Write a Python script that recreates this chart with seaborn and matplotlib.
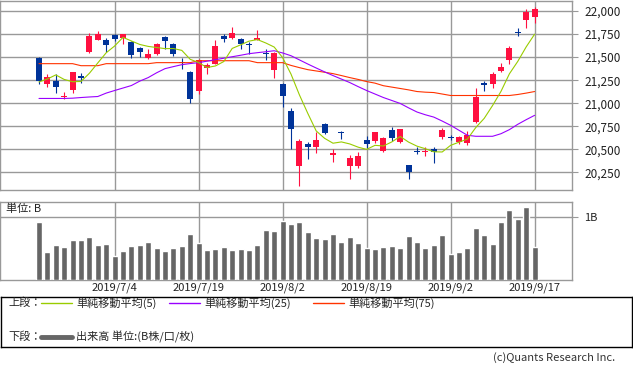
import numpy as np
import matplotlib
matplotlib.use('Agg')
import matplotlib.pyplot as plt
import seaborn as sns

# daily candles, 2019/6/21 .. 2019/9/17 (60 trading days)
open_ = [21494, 21213, 21246, 21065, 21149, 21290, 21558, 21687, 21687, 21741,
         21709, 21666, 21601, 21494, 21537, 21720, 21644, 21450, 21343, 21138,
         21386, 21429, 21731, 21709, 21698, 21640, 21687, 21545, 21364, 21213,
         20912, 20319, 20556, 20524, 20772, 20437, 20685, 20319, 20319, 20599,
         20588, 20481, 20707, 20577, 20330, 20480, 20472, 20502, 20631, 20631,
         20577, 20567, 20793, 21210, 21213, 21354, 21472, 21770, 21903, 21935]
high = [21500, 21321, 21321, 21127, 21343, 21332, 21763, 21784, 21709, 21745,
        21752, 21670, 21612, 21590, 21655, 21725, 21650, 21494, 21354, 21480,
        21440, 21688, 21752, 21828, 21709, 21666, 21795, 21590, 21555, 21220,
        20944, 20610, 20578, 20685, 20782, 20502, 20696, 20437, 20470, 20642,
        20690, 20630, 20739, 20725, 20335, 20524, 20524, 20524, 20730, 20660,
        20640, 20696, 21170, 21246, 21343, 21440, 21623, 21817, 22021, 22043]
low = [21213, 21181, 21106, 21041, 21116, 21224, 21540, 21680, 21558, 21677,
       21644, 21494, 21504, 21483, 21526, 21590, 21510, 21375, 20998, 21100,
       21321, 21420, 21666, 21700, 21590, 21537, 21680, 21472, 21278, 20955,
       20502, 20103, 20394, 20459, 20670, 20362, 20610, 20179, 20297, 20513,
       20570, 20470, 20588, 20570, 20179, 20448, 20430, 20351, 20610, 20600,
       20560, 20545, 20782, 21138, 21170, 21343, 21429, 21731, 21817, 21871]
close = [21246, 21289, 21181, 21080, 21343, 21276, 21731, 21752, 21634, 21698,
         21752, 21526, 21558, 21537, 21644, 21677, 21537, 21440, 21041, 21472,
         21418, 21623, 21698, 21763, 21644, 21634, 21709, 21537, 21547, 21084,
         20718, 20588, 20524, 20599, 20675, 20459, 20675, 20405, 20427, 20556,
         20685, 20620, 20620, 20718, 20254, 20470, 20481, 20470, 20707, 20620,
         20631, 20653, 21073, 21203, 21321, 21397, 21601, 21763, 21989, 22021]

ma5 = [21231, 21263, 21307, 21258, 21233, 21236, 21325, 21437, 21547, 21620,
       21714, 21675, 21637, 21616, 21604, 21592, 21593, 21573, 21476, 21441,
       21387, 21404, 21452, 21594, 21633, 21673, 21690, 21653, 21609, 21495,
       21316, 21091, 20890, 20700, 20620, 20567, 20581, 20559, 20524, 20500,
       20544, 20537, 20581, 20640, 20579, 20535, 20507, 20474, 20472, 20544,
       20578, 20612, 20737, 20836, 20976, 21129, 21319, 21454, 21611, 21748]
ma25 = [21052, 21052, 21052, 21052, 21055, 21062, 21068, 21073, 21110, 21138,
        21165, 21192, 21240, 21278, 21330, 21375, 21397, 21418, 21430, 21440,
        21456, 21472, 21488, 21504, 21520, 21537, 21548, 21558, 21569, 21545,
        21515, 21470, 21425, 21382, 21340, 21300, 21262, 21224, 21180, 21138,
        21100, 21062, 21030, 20998, 20950, 20905, 20875, 20850, 20807, 20761,
        20707, 20653, 20642, 20642, 20642, 20670, 20714, 20772, 20822, 20869]
ma75 = [21429, 21429, 21429, 21429, 21429, 21407, 21407, 21407, 21429, 21429,
        21429, 21429, 21429, 21429, 21440, 21440, 21440, 21440, 21440, 21461,
        21461, 21461, 21461, 21461, 21461, 21461, 21440, 21440, 21440, 21440,
        21410, 21386, 21364, 21350, 21336, 21321, 21300, 21278, 21258, 21235,
        21218, 21190, 21175, 21160, 21145, 21127, 21120, 21116, 21100, 21084,
        21084, 21084, 21084, 21084, 21084, 21084, 21084, 21095, 21110, 21127]

# volume, billions
volume = [0.926, 0.450, 0.556, 0.524, 0.635, 0.635, 0.683, 0.556, 0.571, 0.381,
          0.460, 0.540, 0.556, 0.603, 0.508, 0.460, 0.508, 0.540, 0.730, 0.587,
          0.476, 0.492, 0.524, 0.476, 0.492, 0.476, 0.556, 0.794, 0.778, 0.937,
          0.889, 0.921, 0.762, 0.670, 0.651, 0.735, 0.603, 0.683, 0.587, 0.508,
          0.492, 0.524, 0.540, 0.508, 0.698, 0.603, 0.508, 0.556, 0.714, 0.413,
          0.444, 0.508, 0.825, 0.714, 0.571, 0.921, 1.111, 0.968, 1.159, 0.524]

tick_pos = [9, 19, 29, 39, 49, 59]
tick_labels = ['2019/7/4', '2019/7/19', '2019/8/2', '2019/8/19', '2019/9/2', '2019/9/17']
price_ticks = [20250, 20500, 20750, 21000, 21250, 21500, 21750, 22000]

UP = '#ff1040'
DOWN = '#003399'
GRID = '#999999'

sns.set_style('white')
plt.rcParams['font.family'] = ['Noto Sans CJK JP', 'DejaVu Sans']

W, H = 633, 371
fig = plt.figure(figsize=(W / 100, H / 100), dpi=100)
ax = fig.add_axes([0, 1 - 190 / H, 572 / W, 189 / H])
axv = fig.add_axes([0, 1 - 280 / H, 572 / W, 78 / H])

x = np.arange(len(close))
o = np.array(open_)
c = np.array(close)
colors = [UP if cc >= oo else DOWN for oo, cc in zip(o, c)]

# candles
ax.vlines(x, low, high, colors=colors, lw=0.8, zorder=3)
ax.bar(x, np.maximum(np.abs(c - o), 12), bottom=np.minimum(o, c), width=0.7,
       color=colors, lw=0, zorder=3)

sns.lineplot(x=x, y=ma75, ax=ax, color='#ff3300', lw=0.8, zorder=4)
sns.lineplot(x=x, y=ma25, ax=ax, color='#9900ff', lw=0.8, zorder=4)
sns.lineplot(x=x, y=ma5, ax=ax, color='#99cc00', lw=0.8, zorder=4)

xlim = (-39 / 8.4, 533 / 8.4)
ax.set_xlim(xlim)
ax.set_ylim(20060, 22108)
ax.set_xticks(tick_pos)
ax.set_xticklabels([])
ax.set_yticks(price_ticks)
ax.set_yticklabels([f'{v:,}' for v in price_ticks], fontsize=8.5, color='#222222')
ax.yaxis.tick_right()
ax.tick_params(axis='y', length=4, color=GRID, pad=5)
ax.tick_params(axis='x', length=0)
ax.grid(True, color=GRID, lw=1, zorder=0)
ax.set_axisbelow(True)
ax.set_xlabel('')
ax.set_ylabel('')
for s in ax.spines.values():
    s.set_color(GRID)
    s.set_linewidth(1)

# volume
sns.barplot(x=x, y=volume, ax=axv, native_scale=True, color='#666666',
            saturation=1, width=0.7, errorbar=None, zorder=3)
axv.set_xlim(xlim)
axv.set_ylim(0, 1.238)
axv.set_xticks(tick_pos)
axv.set_xticklabels(tick_labels, fontsize=8, color='#222222')
axv.set_yticks([1.0])
axv.set_yticklabels(['1B'], fontsize=8, color='#222222')
axv.yaxis.tick_right()
axv.tick_params(axis='y', length=4, color=GRID, pad=5)
axv.tick_params(axis='x', length=0, pad=2)
axv.grid(True, color=GRID, lw=1, zorder=0)
axv.set_axisbelow(True)
axv.set_xlabel('')
axv.set_ylabel('')
for s in axv.spines.values():
    s.set_color(GRID)
    s.set_linewidth(1)
fig.text(6 / W, 1 - 209 / H, '単位: B', fontsize=8, va='center', color='#222222')

# legend box
lax = fig.add_axes([0.5 / W, 1 - 347 / H, 631 / W, 50 / H])
lax.set_xlim(0, 631)
lax.set_ylim(50, 0)
lax.set_xticks([])
lax.set_yticks([])
for s in lax.spines.values():
    s.set_color('black')
    s.set_linewidth(1)
lax.text(8, 6, '上段：', fontsize=8, va='center')
lax.plot([40, 71], [6, 6], color='#99cc00', lw=1)
lax.text(76, 6, '単純移動平均(5)', fontsize=8, va='center')
lax.plot([168, 199], [6, 6], color='#9900ff', lw=1)
lax.text(204, 6, '単純移動平均(25)', fontsize=8, va='center')
lax.plot([312, 343], [6, 6], color='#ff3300', lw=1)
lax.text(348, 6, '単純移動平均(75)', fontsize=8, va='center')
lax.text(8, 40, '下段：', fontsize=8, va='center')
lax.plot([40, 71], [40, 40], color='#666666', lw=3.5)
lax.text(76, 40, '出来高 単位:(B株/口/枚)', fontsize=8, va='center')

fig.text(615 / W, 1 - 358 / H, '(c)Quants Research Inc.', fontsize=8,
         ha='right', va='center', color='#333333')

fig.savefig('out.png', dpi=100)
